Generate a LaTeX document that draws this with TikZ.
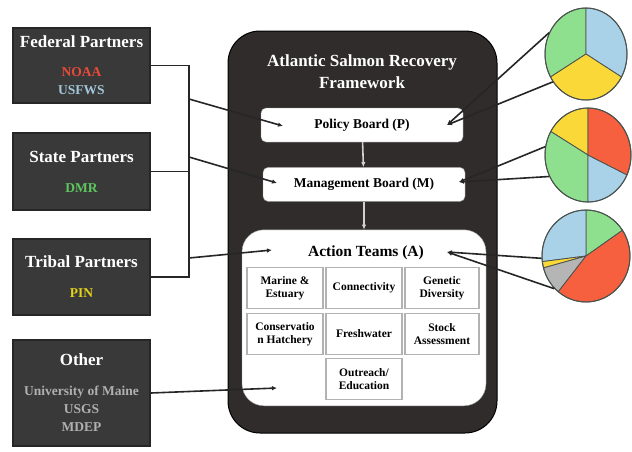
\documentclass[tikz,border=0pt]{standalone}
\usepackage{fontspec}
\setmainfont{Liberation Serif}
\usetikzlibrary{arrows.meta}
\usetikzlibrary{positioning}
\usetikzlibrary{shapes.geometric}

\definecolor{framebg}{HTML}{2F2C2B}
\definecolor{partnerbg}{HTML}{3A3939}
\definecolor{linkgray}{HTML}{262626}
\definecolor{noaared}{HTML}{EA4A3A}
\definecolor{fwsblue}{HTML}{A2C6DA}
\definecolor{dmrgreen}{HTML}{5DC65D}
\definecolor{pinyellow}{HTML}{E2D21A}
\definecolor{othergray}{HTML}{B0B0B0}
\definecolor{piegreen}{HTML}{8EE08E}
\definecolor{pieblue}{HTML}{A9D2E8}
\definecolor{pieyellow}{HTML}{F9D838}
\definecolor{piered}{HTML}{F6603E}
\definecolor{piegray}{HTML}{B5B5B5}
\definecolor{pieedge}{HTML}{4A524E}

\begin{document}
\begin{tikzpicture}[x=1pt, y=-1pt,
    partner/.style={draw=black!85, line width=1.5pt, fill=partnerbg, text=white, minimum width=137pt, align=center, font=\bfseries\fontsize{13.5}{18}\selectfont},
    board/.style={draw=black!40, fill=white, rounded corners=5pt, minimum width=202pt, minimum height=34pt, font=\bfseries\fontsize{13.5}{16}\selectfont},
    team/.style={draw=black!30, line width=1.6pt, fill=white, minimum width=76pt, minimum height=41pt, outer sep=0pt, inner sep=2pt, align=center, font=\bfseries\fontsize{11.5}{13.5}\selectfont},
    pie/.style={ellipse, draw=pieedge, line width=1pt, inner sep=0pt},
    wedge/.style={draw=pieedge, line width=0.8pt},
    link/.style={-{Latex[length=5pt,width=4.5pt]}, line width=1.6pt, draw=linkgray},
    flow/.style={-{Latex[length=5pt,width=4.5pt]}, line width=1.6pt, draw=black!18},
    bracket/.style={line width=1.6pt, draw=linkgray},
    node distance=25pt
]
  \useasboundingbox (0,0) rectangle (632,451);

  % Partners (left column)
  \node[partner, minimum height=75pt] (federal) at (81.5,65.5) {{\fontsize{17}{20}\selectfont Federal Partners}\\[11pt]\textcolor{noaared}{NOAA}\\\textcolor{fwsblue}{USFWS}};
  \node[partner, minimum height=77pt] (state) at (81.5,171.5) {{\fontsize{17}{20}\selectfont State Partners}\\[12pt]\textcolor{dmrgreen}{DMR}};
  \node[partner, minimum height=76pt] (tribal) at (81.5,277) {{\fontsize{17}{20}\selectfont Tribal Partners}\\[12pt]\textcolor{pinyellow}{PIN}};
  \node[partner, minimum height=106pt] (other) at (81.5,393) {{\fontsize{17}{20}\selectfont Other}\\[12pt]\textcolor{othergray}{University of Maine}\\\textcolor{othergray}{USGS}\\\textcolor{othergray}{MDEP}};

  % Framework
  \node[draw=black, line width=1pt, fill=framebg, rounded corners=32pt, minimum width=269pt, minimum height=402pt] (frame) at (362.5,232) {};
  \node[text=white, align=center, font=\bfseries\fontsize{17}{22}\selectfont] (title) at (362,72) {Atlantic Salmon Recovery\\Framework};

  \node[board] (policy) at (362,125) {Policy Board (P)};
  \node[board, below=of policy, xshift=2pt] (mgmt) {Management Board (M)};
  \node[draw=black!40, fill=white, rounded corners=22pt, minimum width=244pt, minimum height=176pt, below=28pt of mgmt] (action) {};
  \node[font=\bfseries\fontsize{15.5}{18}\selectfont] (teams) at (366,253) {Action Teams (A)};

  % Teams grid
  \node[team] (marine) at (285,288) {Marine \&\\Estuary};
  \node[team, right=3pt of marine] (connect) {Connectivity};
  \node[team, right=3pt of connect, minimum width=74pt] (genetic) {Genetic\\Diversity};
  \node[team, below=5pt of marine] (hatchery) {Conservatio\\n Hatchery};
  \node[team, right=3pt of hatchery] (fresh) {Freshwater};
  \node[team, right=3pt of fresh, minimum width=74pt] (stock) {Stock\\Assessment};
  \node[team, below=4pt of fresh] (outreach) {Outreach/\\Education};

  % Flow inside framework
  \draw[flow] (policy) -- (mgmt);
  \draw[flow] (mgmt.south) -- (mgmt.south |- action.north);

  % Bracket joining partners
  \coordinate (spine) at (189,0);
  \draw[bracket] (federal.east) -- (federal.east -| spine) -- (tribal.east -| spine) -- (tribal.east);
  \draw[bracket] (state.east) -- (state.east -| spine);

  \coordinate (fedjoin) at (189,99);
  \coordinate (statejoin) at (189,157);
  \coordinate (tribejoin) at (189,258);
  \coordinate (policyin) at (283,126);
  \coordinate (mgmtin) at (277,183);
  \coordinate (actionin) at (272,250);
  \coordinate (otherin) at (277,388);
  \draw[link] (fedjoin) -- (policyin);
  \draw[link] (statejoin) -- (mgmtin);
  \draw[link] (tribejoin) -- (actionin);
  \draw[link] (other.east) -- (otherin);

  % Pies (right)
  \foreach \a/\b/\c in {90/210/piegreen, -30/90/pieblue, 210/330/pieyellow}
    \filldraw[wedge, fill=\c] (586,54) -- +({cos(\a)*41},{-sin(\a)*46}) arc[start angle=-\a, end angle=-\b, x radius=41, y radius=46] -- cycle;
  \node[pie, minimum width=82pt, minimum height=92pt] (pie1) at (586,54) {};

  \foreach \a/\b/\c in {90/150/pieyellow, 150/270/piegreen, 270/335/pieblue, 335/450/piered}
    \filldraw[wedge, fill=\c] (588,155) -- +({cos(\a)*43},{-sin(\a)*47}) arc[start angle=-\a, end angle=-\b, x radius=43, y radius=47] -- cycle;
  \node[pie, minimum width=86pt, minimum height=94pt] (pie2) at (588,155) {};

  \foreach \a/\b/\c in {34/90/piegreen, 90/187/pieblue, 187/195/pieyellow, 195/231/piegray, 231/394/piered}
    \filldraw[wedge, fill=\c] (586,256) -- +({cos(\a)*44},{-sin(\a)*46}) arc[start angle=-\a, end angle=-\b, x radius=44, y radius=46] -- cycle;
  \node[pie, minimum width=88pt, minimum height=92pt] (pie3) at (586,256) {};

  \coordinate (policyout) at (447,125);
  \coordinate (mgmtout) at (459,182);
  \coordinate (actionout) at (447,252);
  \draw[link] (pie1.150) -- (policyout);
  \draw[link] (pie1.220) -- (policyout);
  \draw[link] (pie2.169) -- (mgmtout);
  \draw[link] (pie2.209) -- (mgmtout);
  \draw[link] (pie3.183) -- (actionout);
  \draw[link] (pie3.226) -- (actionout);

\end{tikzpicture}
\end{document}
